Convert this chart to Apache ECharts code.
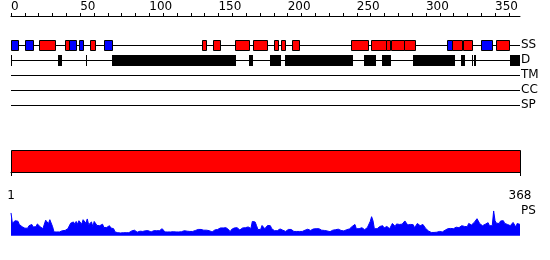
<!DOCTYPE html>
<html><head><meta charset="utf-8">
<script src="https://cdn.jsdelivr.net/npm/echarts@6/dist/echarts.min.js"></script>
<style>html,body{margin:0;padding:0;background:#fff}#c{width:550px;height:260px}</style>
</head><body><div id="c"></div>
<script>
const seqLength = 368;
const rulerTicks = [0,10,20,30,40,50,60,70,80,90,100,110,120,130,140,150,160,170,180,190,200,210,220,230,240,250,260,270,280,290,300,310,320,330,340,350,360];
const rulerLabels = [0,50,100,150,200,250,300,350];
const trackNames = ['SS','D','TM','CC','SP'];
// secondary structure segments [start, end]
const ssStrand = [[0,5],[10,16],[42,47],[49,52],[67,73],[315,319],[340,348]];
const ssHelix = [[20,32],[39,42],[57,61],[138,141],[146,151],[162,172],[175,185],[190,193],[195,198],[203,208],[246,258],[260,271],[271,274],[275,284],[284,292],[319,326],[327,333],[351,360]];
// disorder segments [start, end]
const disorder = [[0,1],[34,37],[54,55],[73,163],[172,175],[187,195],[198,247],[255,264],[268,275],[291,321],[325,328],[333,334],[335,336],[361,368]];
// full-length domain bar
const domainBar = [[1,368]];
const domainLabels = [1,368];
// per-residue PS score
const psScores = [
0.91,0.50,0.52,0.60,0.62,0.58,0.45,0.42,0.36,0.38,
0.30,0.32,0.30,0.40,0.47,0.45,0.35,0.34,0.36,0.47,
0.44,0.36,0.35,0.28,0.30,0.62,0.66,0.48,0.64,0.60,
0.36,0.15,0.14,0.15,0.14,0.15,0.16,0.20,0.20,0.21,
0.20,0.28,0.27,0.50,0.44,0.55,0.46,0.57,0.46,0.60,
0.58,0.46,0.64,0.62,0.50,0.67,0.44,0.43,0.55,0.37,
0.57,0.55,0.41,0.42,0.40,0.47,0.46,0.33,0.34,0.33,
0.41,0.40,0.31,0.30,0.28,0.15,0.14,0.12,0.12,0.11,
0.12,0.12,0.11,0.12,0.12,0.12,0.20,0.19,0.23,0.22,
0.15,0.14,0.17,0.18,0.16,0.17,0.17,0.20,0.21,0.20,
0.23,0.15,0.15,0.20,0.19,0.20,0.15,0.20,0.21,0.28,
0.27,0.15,0.14,0.15,0.17,0.15,0.14,0.16,0.15,0.15,
0.20,0.15,0.15,0.16,0.15,0.20,0.17,0.18,0.17,0.17,
0.18,0.17,0.22,0.21,0.22,0.25,0.24,0.25,0.23,0.22,
0.23,0.22,0.20,0.20,0.15,0.15,0.16,0.23,0.22,0.25,
0.26,0.31,0.30,0.31,0.33,0.32,0.25,0.24,0.15,0.25,
0.26,0.31,0.30,0.32,0.31,0.23,0.24,0.31,0.30,0.32,
0.36,0.35,0.28,0.29,0.57,0.58,0.55,0.41,0.25,0.26,
0.25,0.41,0.40,0.28,0.29,0.41,0.42,0.40,0.28,0.27,
0.20,0.21,0.20,0.28,0.27,0.23,0.22,0.23,0.17,0.18,
0.25,0.24,0.25,0.20,0.17,0.18,0.17,0.16,0.17,0.18,
0.17,0.23,0.22,0.25,0.26,0.20,0.21,0.28,0.27,0.29,
0.28,0.27,0.28,0.23,0.22,0.20,0.21,0.20,0.19,0.15,
0.16,0.23,0.22,0.23,0.24,0.25,0.26,0.20,0.21,0.20,
0.19,0.23,0.24,0.28,0.27,0.29,0.37,0.44,0.45,0.28,
0.29,0.28,0.31,0.32,0.25,0.24,0.25,0.33,0.34,0.57,
0.76,0.60,0.28,0.29,0.28,0.36,0.37,0.41,0.40,0.31,
0.30,0.37,0.36,0.28,0.29,0.49,0.48,0.37,0.47,0.46,
0.45,0.44,0.46,0.40,0.59,0.58,0.43,0.44,0.45,0.46,
0.44,0.32,0.33,0.49,0.48,0.40,0.41,0.45,0.44,0.29,
0.28,0.19,0.18,0.13,0.14,0.13,0.13,0.14,0.16,0.17,
0.16,0.15,0.23,0.22,0.27,0.28,0.26,0.29,0.30,0.28,
0.35,0.34,0.36,0.32,0.33,0.40,0.41,0.37,0.38,0.36,
0.49,0.48,0.43,0.44,0.53,0.52,0.68,0.72,0.48,0.47,
0.40,0.45,0.46,0.53,0.52,0.40,0.41,0.40,0.99,0.60,
0.50,0.51,0.49,0.59,0.58,0.60,0.49,0.48,0.45,0.46,
0.40,0.41,0.53,0.52,0.35,0.49,0.48,0.45
];

const FONT = 'DejaVu Sans';
const LEFT = 11, WIDTH = 509;

function segItems(segs, track, kind) {
  return segs.map(s => ({ value: [s[0], s[1], track], kind: kind }));
}
const trackLineData = trackNames.map((n, i) => ({ value: [0, seqLength, i] }));
const boxData = [].concat(
  segItems(ssHelix, 0, 'H'),
  segItems(ssStrand, 0, 'E'),
  segItems(disorder, 1, 'D')
);

function renderTrackLine(params, api) {
  const a = api.coord([api.value(0), api.value(2)]);
  const b = api.coord([api.value(1), api.value(2)]);
  const y = Math.round(a[1]) + 0.5;
  return { type: 'line', shape: { x1: a[0], y1: y, x2: b[0], y2: y },
    style: { stroke: '#000', lineWidth: 1 } };
}
function renderBox(params, api) {
  const a = api.coord([api.value(0), api.value(2)]);
  const b = api.coord([api.value(1), api.value(2)]);
  const kind = boxData[params.dataIndex].kind;
  const x1 = Math.round(a[0]), x2 = Math.max(Math.round(b[0]), x1 + 1);
  const yc = Math.round(a[1]);
  if (kind === 'D') {
    return { type: 'rect', shape: { x: x1, y: yc - 5, width: x2 - x1, height: 11 },
      style: { fill: '#000' } };
  }
  return { type: 'rect', shape: { x: x1 + 0.5, y: yc - 4.5, width: x2 - x1, height: 10 },
    style: { fill: kind === 'H' ? '#ff0000' : '#0000ff', stroke: '#000', lineWidth: 1 } };
}
function renderBar(params, api) {
  const a = api.coord([api.value(0), 1]);
  const b = api.coord([api.value(1), 0]);
  return { type: 'rect', shape: { x: Math.round(a[0]) + 0.5, y: Math.round(a[1]) + 0.5,
    width: Math.round(b[0] - a[0]), height: Math.round(b[1] - a[1]) },
    style: { fill: '#ff0000', stroke: '#000', lineWidth: 1 } };
}

const chart = echarts.init(document.getElementById('c'), null, { renderer: 'canvas' });
chart.setOption({
  animation: false,
  textStyle: { fontFamily: FONT },
  grid: [
    { left: LEFT, width: WIDTH, top: 15, height: 1 },
    { left: LEFT, width: WIDTH, top: 37.5, height: 75 },
    { left: LEFT, width: WIDTH, top: 150, height: 22 },
    { left: LEFT, width: WIDTH, top: 210.7, height: 25 }
  ],
  xAxis: [
    { gridIndex: 0, type: 'value', position: 'top', min: 0, max: seqLength,
      axisLine: { lineStyle: { color: '#000', width: 1 } },
      axisTick: { customValues: rulerTicks, length: 3, lineStyle: { color: '#000' } },
      axisLabel: { customValues: rulerLabels, align: 'left', margin: 2, color: '#000',
        fontSize: 12, fontFamily: FONT },
      splitLine: { show: false } },
    { gridIndex: 1, type: 'value', min: 0, max: seqLength, show: false },
    { gridIndex: 2, type: 'value', min: 1, max: seqLength, position: 'bottom', offset: 10,
      axisLine: { lineStyle: { color: '#000', width: 1 } },
      axisTick: { customValues: domainLabels, length: 4, lineStyle: { color: '#000' } },
      axisLabel: { customValues: domainLabels, margin: 8, color: '#000', fontSize: 12, fontFamily: FONT },
      splitLine: { show: false } },
    { gridIndex: 3, type: 'value', min: 1, max: seqLength, show: false }
  ],
  yAxis: [
    { gridIndex: 0, type: 'value', show: false },
    { gridIndex: 1, type: 'category', data: trackNames, inverse: true, position: 'right',
      axisLine: { show: false }, axisTick: { show: false }, splitLine: { show: false },
      axisLabel: { interval: 0, margin: 1, color: '#000', fontSize: 12, fontFamily: FONT, align: 'left' } },
    { gridIndex: 2, type: 'value', min: 0, max: 1, show: false },
    { gridIndex: 3, type: 'value', min: 0, max: 1, show: false }
  ],
  graphic: [
    { type: 'text', left: 521, top: 205, style: { text: 'PS', fontSize: 12, fontFamily: FONT, fill: '#000' } }
  ],
  series: [
    { type: 'custom', xAxisIndex: 1, yAxisIndex: 1, renderItem: renderTrackLine, data: trackLineData, z: 1 },
    { type: 'custom', xAxisIndex: 1, yAxisIndex: 1, renderItem: renderBox, data: boxData, z: 2 },
    { type: 'custom', xAxisIndex: 2, yAxisIndex: 2, renderItem: renderBar, data: domainBar, z: 2 },
    { type: 'line', xAxisIndex: 3, yAxisIndex: 3, showSymbol: false, symbol: 'none',
      data: psScores.map((v, i) => [i + 1, v]),
      lineStyle: { color: '#0000ff', width: 1 }, areaStyle: { color: '#0000ff', opacity: 1 } }
  ]
});
</script></body></html>
